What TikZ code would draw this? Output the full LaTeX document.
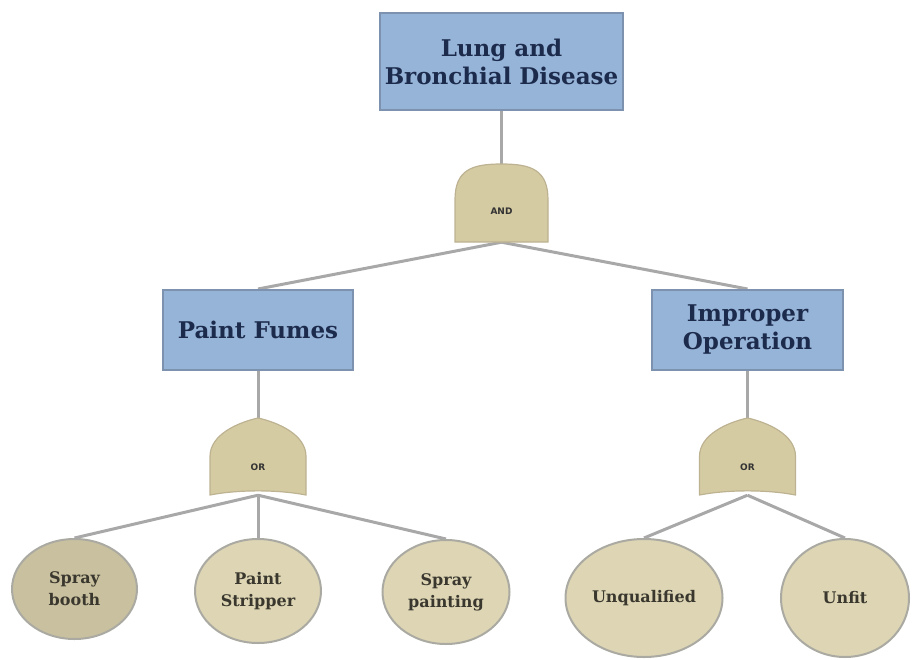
\documentclass[tikz,border=0pt]{standalone}
\usepackage{fontspec}
\setmainfont{DejaVu Serif}
\setsansfont{DejaVu Sans}
\usetikzlibrary{shapes.geometric}
\pgfdeclarelayer{background}
\pgfsetlayers{background,main}
\definecolor{boxfill}{HTML}{96B3D8}
\definecolor{boxline}{HTML}{7D92AE}
\definecolor{boxtext}{HTML}{1C2B4C}
\definecolor{gatefill}{HTML}{D5CBA3}
\definecolor{gateline}{HTML}{BDB291}
\definecolor{ellfill}{HTML}{DDD5B4}
\definecolor{ellfilldark}{HTML}{C9C09F}
\definecolor{ellline}{HTML}{ABAAA2}
\definecolor{elltext}{HTML}{3A382E}
\definecolor{conn}{HTML}{A8A8A8}
\tikzset{
  eventbox/.style={rectangle, draw=boxline, line width=2pt, fill=boxfill, text=boxtext,
    font=\bfseries\fontsize{23}{28}\selectfont, align=center, inner sep=0pt},
  basicev/.style={ellipse, draw=ellline, line width=2pt, fill=ellfill, text=elltext,
    font=\bfseries\fontsize{16}{22}\selectfont, align=center, inner sep=0pt},
  gatenode/.style={rectangle, inner sep=0pt, text=black!80,
    font=\sffamily\bfseries\fontsize{9}{10}\selectfont},
  gateshape/.style={fill=gatefill, draw=gateline, line width=1.2pt},
  connector/.style={draw=conn, line width=3pt},
}
\begin{document}
\begin{tikzpicture}[x=1pt,y=-1pt]
\useasboundingbox (0,0) rectangle (913,659);
% events
\node[eventbox, minimum width=243pt, minimum height=97pt] (top) at (501.5,61.5) {Lung and\\Bronchial Disease};
\node[eventbox, minimum width=190pt, minimum height=80pt] (pf) at (258,330) {Paint Fumes};
\node[eventbox, minimum width=191pt, minimum height=80pt] (io) at (747.5,330) {Improper\\Operation};
% gates (placeholders for naming)
\node[gatenode, minimum width=93pt, minimum height=78pt] (and) at (501.5,203) {};
\node[gatenode, minimum width=96pt, minimum height=77pt] (orl) at (258,456.5) {};
\node[gatenode, minimum width=96pt, minimum height=77pt] (orr) at (747.5,456.5) {};
% basic events
\node[basicev, fill=ellfilldark, minimum width=125pt, minimum height=100pt] (booth) at (74.5,589) {Spray\\booth};
\node[basicev, minimum width=126pt, minimum height=104pt] (strip) at (258,591) {Paint\\Stripper};
\node[basicev, minimum width=127pt, minimum height=104pt] (spray) at (446,592) {Spray\\painting};
\node[basicev, minimum width=157pt, minimum height=118pt] (unq) at (644,598) {Unqualified};
\node[basicev, minimum width=128pt, minimum height=118pt] (unfit) at (845,598) {Unfit};
% connectors
\begin{pgfonlayer}{background}
\draw[connector] (top.south) -- (and.north);
\draw[connector] (and.south) -- (pf.north);
\draw[connector] (and.south) -- (io.north);
\draw[connector] (pf.south) -- (orl.north);
\draw[connector] (io.south) -- (orr.north);
\draw[connector] (orl.south) -- (booth.north);
\draw[connector] (orl.south) -- (strip.north);
\draw[connector] (orl.south) -- (spray.north);
\draw[connector] (orr.south) -- (unq.north);
\draw[connector] (orr.south) -- (unfit.north);
\end{pgfonlayer}
% gate shapes
\path[gateshape, shift={(and.center)}]
  (-46.5,39) -- (-46.5,-3) .. controls (-46.5,-33) and (-30,-39) .. (0,-39)
  .. controls (30,-39) and (46.5,-33) .. (46.5,-3) -- (46.5,39) -- cycle;
\foreach \g in {orl,orr}{
\path[gateshape, shift={(\g.center)}]
  (-48,38.5) -- (-48,0) .. controls (-48,-22) and (-20,-34) .. (0,-38.5)
  .. controls (20,-34) and (48,-22) .. (48,0) -- (48,38.5)
  .. controls (20,33) and (-20,33) .. cycle;
}
\node[gatenode] (andlabel) at ([yshift=-8pt]and.center) {AND};
\node[gatenode] (orllabel) at ([yshift=-11pt]orl.center) {OR};
\node[gatenode] (orrlabel) at ([yshift=-11pt]orr.center) {OR};
\end{tikzpicture}
\end{document}
